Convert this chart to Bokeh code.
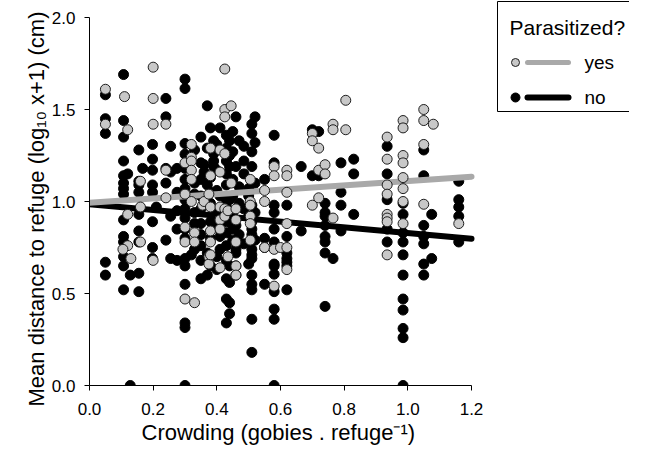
import numpy as np
from bokeh.plotting import figure
from bokeh.models import Range1d, FixedTicker, PrintfTickFormatter, Title, LinearAxis
from bokeh.core.properties import value
from bokeh.embed import file_html
from bokeh.resources import INLINE

FONT = "Liberation Sans"

# ---------------- data ----------------
yes_cols = [0.05, 0.11, 0.12, 0.105, 0.13, 0.16, 0.20, 0.24, 0.30, 0.32, 0.33,
            0.355, 0.36, 0.375, 0.38, 0.41, 0.425, 0.435, 0.445, 0.46, 0.505,
            0.55, 0.58, 0.60, 0.62, 0.70, 0.72, 0.74, 0.765, 0.805, 0.935,
            0.985, 1.05, 1.08, 1.16]
yes_vals = [
    [1.61, 1.42], [1.57], [1.39, 0.93, 0.76], [0.74], [0.69],
    [1.11, 0.97, 0.78], [1.73, 1.56, 1.42, 0.68], [1.42, 1.17, 1.02],
    [1.21, 1.04, 0.86, 0.78, 0.47], [1.31, 1.24, 1.22, 1.17, 1.12, 1.00],
    [0.83, 0.78, 0.45], [0.98], [1.00], [1.04, 0.70, 0.66],
    [1.29, 1.14, 0.97, 0.84, 0.78, 0.71], [1.28, 1.16, 0.97, 0.90, 0.85, 0.64],
    [1.72, 1.50, 1.46, 1.26, 0.96, 0.92], [0.95, 0.70], [1.52, 1.10],
    [0.96, 0.90, 0.78, 0.65, 0.60], [1.12, 1.00, 0.98, 0.92, 0.88, 0.79],
    [1.06, 1.00, 0.75], [1.19, 1.14, 0.74, 0.54], [0.75],
    [1.17, 1.14, 1.05, 0.88, 0.75, 0.63], [1.37, 1.33, 0.98],
    [1.29, 1.17, 1.02], [1.20, 1.15], [1.42, 1.39, 0.91], [1.55, 1.39],
    [1.35, 1.23, 1.09, 1.04, 0.93, 0.91, 0.89, 0.71],
    [1.44, 1.40, 1.25, 1.21, 1.13, 1.07, 1.00, 0.88],
    [1.50, 1.44, 1.31, 0.985], [1.42], [0.88],
]

no_cols = [0.05, 0.107, 0.12, 0.128, 0.155, 0.167, 0.198, 0.21, 0.24, 0.255,
           0.275, 0.30, 0.32, 0.33, 0.35, 0.36, 0.37, 0.38, 0.39, 0.40, 0.41,
           0.43, 0.44, 0.45, 0.46, 0.47, 0.485, 0.50, 0.51, 0.52, 0.55, 0.58,
           0.62, 0.665, 0.70, 0.72, 0.74, 0.765, 0.79, 0.83, 0.935, 0.985,
           1.05, 1.075, 1.16]
no_vals = [
    [1.58, 1.45, 1.37, 0.67, 0.60],
    [1.69, 1.44, 1.35, 1.22, 1.14, 1.10, 1.07, 1.04, 0.90, 0.81, 0.78, 0.70, 0.65, 0.52],
    [1.15], [0.60, 0.0],
    [1.28, 1.11, 1.09, 1.05, 0.93, 0.84, 0.78, 0.61, 0.51],
    [1.18],
    [1.31, 1.23, 1.17, 1.09, 1.05, 0.89, 0.75, 0.69],
    [0.97],
    [1.56, 1.46, 1.18, 1.10, 0.79],
    [1.30, 1.16, 0.92, 0.69],
    [1.18, 1.05, 0.95, 0.85, 0.68],
    [1.665, 1.614, 1.315, 1.257, 1.18, 1.12, 1.07, 1.01, 0.96, 0.91, 0.85, 0.80,
     0.69, 0.65, 0.55, 0.34, 0.315, 0.0],
    [0.71],
    [1.28, 1.10, 1.04, 0.94, 0.88, 0.74],
    [1.35, 1.21, 1.12, 1.03, 0.96, 0.88, 0.82, 0.76, 0.68, 0.58],
    [1.20, 1.16],
    [1.52, 1.29, 1.09, 0.72, 0.60],
    [1.40, 1.13, 1.05, 0.99, 0.89, 0.80, 0.65],
    [1.33, 1.26, 1.22, 1.19, 0.94],
    [1.31, 1.17, 1.06, 0.93, 0.86, 0.70, 0.63],
    [1.40, 1.03, 0.81, 0.74],
    [1.36, 1.29, 1.22, 1.15, 1.09, 1.01, 0.97, 0.89, 0.83, 0.76, 0.68, 0.58, 0.47, 0.34],
    [1.33, 1.25, 1.19, 1.01, 0.65, 0.56, 0.45, 0.39],
    [1.38, 1.27, 1.12, 1.03, 0.94, 0.85, 0.79],
    [1.46, 1.19, 0.87, 0.74, 0.72, 0.65, 0.60],
    [1.33, 1.08, 0.99, 0.82],
    [1.30, 1.22, 1.15, 0.96, 0.77],
    [1.07, 1.03, 0.92, 0.66],
    [1.42, 1.37, 1.27, 1.19, 0.98, 0.89, 0.85, 0.82, 0.74, 0.71, 0.69, 0.60, 0.55,
     0.52, 0.36, 0.18],
    [1.46, 1.32, 1.10, 0.94, 0.79],
    [1.12, 0.80, 0.75, 0.55],
    [1.36, 1.21, 0.98, 0.94, 0.85, 0.78, 0.66, 0.65, 0.605, 0.51, 0.415, 0.36, 0.0],
    [0.98, 0.81, 0.72, 0.69, 0.67, 0.65, 0.52],
    [1.19, 0.84],
    [1.39, 1.14],
    [1.38, 1.14],
    [0.99, 0.94, 0.92, 0.87, 0.81, 0.78, 0.72, 0.43],
    [0.69],
    [1.21, 1.05, 0.98, 0.84],
    [1.23, 1.15, 0.93],
    [1.30, 1.15, 1.01, 0.85, 0.78],
    [0.99, 0.93, 0.83, 0.78, 0.71, 0.60, 0.47, 0.41, 0.31, 0.26, 0.0],
    [1.28, 1.14, 0.87, 0.81, 0.77, 0.66, 0.60],
    [0.93, 0.69],
    [1.11, 1.01, 0.97, 0.92, 0.78],
]

fit_x = [0.0, 1.2]
yes_fit_y = [0.993, 1.135]
no_fit_y = [0.985, 0.797]

x_ticks = [0.0, 0.2, 0.4, 0.6, 0.8, 1.0, 1.2]
y_ticks = [0.0, 0.5, 1.0, 1.5, 2.0]
legend_title = "Parasitized?"
legend_labels = ["yes", "no"]
x_title = "Crowding (gobies . refuge\u207b\u00b9)"
y_title = "Mean distance to refuge (log\u2081\u2080 x+1) (cm)"

yes_x = [c for c, vs in zip(yes_cols, yes_vals) for _ in vs]
yes_y = [v for vs in yes_vals for v in vs]
no_x = [c for c, vs in zip(no_cols, no_vals) for _ in vs]
no_y = [v for vs in no_vals for v in vs]

# ---------------- layout (pixels, figure coordinates) ----------------
W, H = 629, 455
M = 8                       # page margin
AX0, AX1 = 89, 471          # figure px of x=0 and x=1.2
AY0, AY1 = 385, 17          # figure px of y=0 and y=2
FR, FT = 629, 0             # frame right / top (frame extends to hold the legend)
sx = (AX1 - AX0) / 1.2
sy = (AY0 - AY1) / 2.0
x_end = (FR - AX0) / sx
y_end = (AY0 - FT) / sy


def X(px):  # page pixel -> data x
    return (px - M - AX0) / sx


def Y(py):  # page pixel -> data y
    return (AY0 - (py - M)) / sy


GRAY_FILL = "#c8c8c8"
GRAY_LINE = "#a9a9a9"
EDGE = "#1e1e1e"

p = figure(width=W, height=H, output_backend="svg", toolbar_location=None,
           x_range=Range1d(0, x_end), y_range=Range1d(0, y_end),
           min_border_left=AX0, min_border_right=W - FR,
           min_border_top=FT, min_border_bottom=H - AY0)
p.outline_line_color = None
p.grid.visible = False
p.background_fill_color = "white"
p.border_fill_color = "white"

for ax in (p.xaxis[0], p.yaxis[0]):
    ax.axis_line_color = "black"
    ax.axis_line_width = 1
    ax.major_tick_line_color = "black"
    ax.major_tick_out = 5
    ax.major_tick_in = 0
    ax.minor_tick_line_color = None
    ax.major_label_text_font = FONT
    ax.major_label_text_font_size = "17px"
    ax.major_label_text_color = "black"
    ax.formatter = PrintfTickFormatter(format="%.1f")
p.xaxis.bounds = (0, 1.2)
p.yaxis.bounds = (0, 2.0)
p.xaxis.ticker = FixedTicker(ticks=x_ticks)
p.yaxis.ticker = FixedTicker(ticks=y_ticks)
p.xaxis.major_label_standoff = 12
p.yaxis.major_label_standoff = 9


def spacer_axis(extent):
    # invisible axis that only reserves room between the ticks and the title
    return LinearAxis(ticker=FixedTicker(ticks=[]), axis_line_color=None,
                      major_tick_line_color=None, minor_tick_line_color=None,
                      major_tick_out=extent, major_tick_in=0,
                      minor_tick_out=0, minor_tick_in=0,
                      major_label_text_font_size="1px")


p.add_layout(spacer_axis(23), "left")
p.add_layout(spacer_axis(6), "below")

p.add_layout(Title(text=y_title, align="left", offset=-21, standoff=0,
                   vertical_align="bottom",
                   text_font=FONT, text_font_size="22px", text_font_style="normal",
                   text_color="black"), "left")
p.add_layout(Title(text=x_title, align="left", offset=52, standoff=0,
                   vertical_align="bottom",
                   text_font=FONT, text_font_size="22px", text_font_style="normal",
                   text_color="black"), "below")

# data marks
p.scatter(no_x, no_y, size=10, fill_color="black", line_color="black")
p.line(fit_x, no_fit_y, line_width=6, line_color="black", line_cap="round")
p.line(fit_x, yes_fit_y, line_width=6, line_color=GRAY_LINE, line_cap="round")
p.scatter(yes_x, yes_y, size=10, fill_color=GRAY_FILL, line_color=EDGE, line_width=1)

# legend (inside the extended frame, right of the axes; its right side runs off the edge)
p.quad(left=[X(505)], right=[X(660)], top=[Y(9)], bottom=[Y(119)],
       fill_color=None, line_color="black", line_width=1)
p.text(x=[X(517)], y=[Y(35)], text=[legend_title], text_font=value(FONT),
       text_font_size="21px", text_baseline="middle", text_align="left",
       text_color="black")
leg_y = [Y(70), Y(105)]
p.segment(x0=[X(535)] * 2, x1=[X(576)] * 2, y0=leg_y, y1=leg_y,
          line_color=[GRAY_LINE, "black"], line_width=[5, 6], line_cap="round")
p.scatter(x=[X(523)] * 2, y=leg_y, size=[8, 9],
          fill_color=[GRAY_FILL, "black"], line_color=[EDGE, "black"], line_width=1)
p.text(x=[X(592)] * 2, y=leg_y, text=legend_labels, text_font=value(FONT),
       text_font_size="19px", text_baseline="middle", text_align="left",
       text_color="black")

open("out.html", "w").write(file_html(p, INLINE))
